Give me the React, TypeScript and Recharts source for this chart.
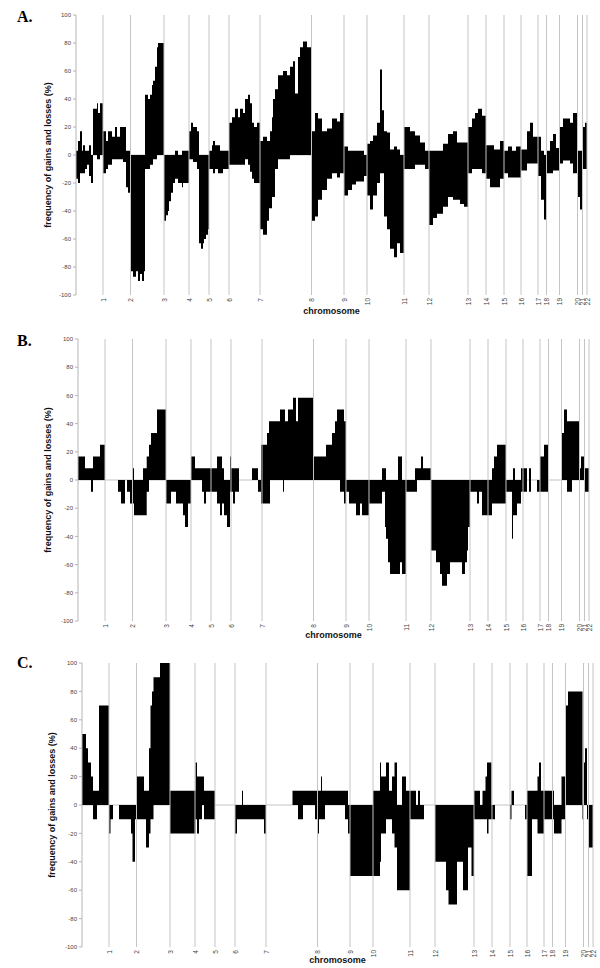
import React from 'react';
import { ComposedChart, Area, XAxis, YAxis, ReferenceLine, Label, CartesianGrid } from 'recharts';

// ---------- data ----------
const chromosomeLabels = ['1','2','3','4','5','6','7','8','9','10','11','12','13','14','15','16','17','18','19','20','21','22'];
// cumulative end position of every chromosome along the genome axis (clone index units)
const chromosomeEnds = [27, 54.5, 88, 113, 133, 153, 184, 235.5, 268, 291, 328, 353, 392, 410, 428, 445, 462, 470.5, 483.5, 501.5, 506.5, 511];
const yTicks = [-100, -80, -60, -40, -20, 0, 20, 40, 60, 80, 100];
const zeroLine = [0];

// [segment start, gain frequency %, loss frequency %]
const panelA: [number, number, number][] = [
  [0,3,-17],[2,10,-20],[4,17,-13],[6,3,-13],[7,7,-13],[9,3,-10],[11,3,-7],[13,7,-15],[15,0,-20],[17,33,0],[21,37,-3],[22,30,-3],[24,37,0],
  [27,17,-13],[30,10,-10],[32,17,-7],[36,13,-3],[39,20,-3],[41,13,-3],[44,20,-3],[47,20,-5],[50,3,-23],[52,3,-27],
  [54.5,0,-83],[57,0,-87],[60,0,-83],[62,0,-90],[64,0,-85],[66,0,-90],[68,0,-83],[69,43,-10],[72,40,-10],[74,43,-7],[76,50,-7],[77,53,-3],[79,63,-3],[81,77,0],[82,80,0],
  [88,0,-47],[90,0,-43],[92,0,-40],[93,0,-33],[95,0,-27],[97,0,-20],[99,3,-17],[102,0,-20],[106,3,-23],[107,3,-20],
  [113,17,-3],[115,23,-3],[117,20,-5],[121,17,-10],[123,0,-63],[125,0,-67],[127,0,-63],[128,0,-60],[130,0,-57],[132,0,-53],
  [133,3,-10],[136,7,-10],[137,10,-13],[139,7,-10],[142,7,-13],[144,3,-13],[147,3,-10],
  [153,23,-7],[156,27,-7],[159,33,-7],[162,27,-7],[164,33,-7],[167,30,-7],[169,40,-3],[172,43,-7],[174,37,-12],[176,23,-17],[178,20,-20],[181,23,-20],
  [184,10,-53],[187,13,-57],[191,10,-47],[193,10,-38],[194,17,-38],[196,27,-30],[197,40,-30],[199,47,-10],[202,57,-3],[207,60,-3],[211,57,-3],[214,63,0],[217,67,0],[219,44,0],[222,70,0],[224,77,0],[227,81,0],[231,77,0],
  [235.5,17,-47],[239,30,-44],[242,26,-32],[246,17,-25],[251,19,-17],[256,26,-13],[261,24,-16],[264,30,-13],
  [268,6,-29],[272,3,-25],[276,3,-21],[280,3,-19],[288,0,-15],
  [291,8,-29],[294,10,-39],[297,14,-29],[301,23,-20],[304,61,-13],[306,32,-13],[308,17,-44],[311,16,-53],[314,4,-67],[318,6,-73],[321,4,-63],[324,0,-70],
  [328,20,-10],[334,17,-10],[339,14,-7],[344,9,-7],[349,3,-10],
  [353,3,-50],[357,3,-45],[361,3,-42],[367,8,-37],[372,15,-30],[377,17,-32],[381,9,-32],[384,9,-35],[388,9,-37],
  [392,20,-13],[396,26,-10],[399,30,-10],[402,33,-10],[406,28,-13],
  [410,7,-17],[414,7,-23],[418,4,-23],[424,10,-17],
  [428,3,-13],[432,6,-16],[436,3,-16],[440,6,-16],
  [445,4,-11],[451,17,-6],[454,23,-6],[457,13,-6],
  [462,13,-15],[465,3,-32],[468,0,-46],
  [470.5,3,-13],[474,10,-13],[477,15,-11],[480,5,-11],
  [483.5,20,-6],[487,26,-4],[494,23,-6],[497,30,-13],
  [501.5,3,-30],[504,3,-39],
  [506.5,20,-10],[509,23,-10],
];

const panelB: [number, number, number][] = [
  [0,16.7,0],[7,8.3,0],[13,8.3,-8.3],[15,16.7,0],[22,25,0],
  [27,0,0],[40,0,-8.3],[43,0,-16.7],[47,0,0],[49,0,-8.3],[52,0,-16.7],
  [54.5,8.3,-16.7],[56,0,-25],[65,8.3,-25],[68.7,16.7,-8.3],[71,25,0],[73,33.3,0],[79,50,0],
  [88,0,-16.7],[93,0,-8.3],[98,0,-16.7],[105,0,-25],[107,0,-33.3],[110,0,-16.7],
  [113,16.7,0],[117,8.3,0],[124,8.3,-8.3],[126,8.3,-16.7],[128,8.3,-8.3],
  [133,8.3,-8.3],[139,16.7,-16.7],[142,16.7,-25],[144,8.3,-16.7],[146,0,-25],[149,0,-33.3],[152,16.7,-8.3],
  [153,8.3,-8.3],[155,8.3,-16.7],[157,8.3,-8.3],[161,0,0],[174,8.3,0],[180,0,-8.3],[183,25,-16.7],
  [184,25,-16.7],[189,33.3,-16.7],[191,41.7,-16.7],[192,41.7,0],[202,50,0],[205,50,-8.3],[206,50,0],[207,41.7,0],[210,50,0],[215,58.3,0],[218,41.7,0],[220,58.3,0],
  [235.5,16.7,0],[248,25,0],[254,33.3,0],[257,41.7,0],[259,50,0],[262,50,-8.3],[266,41.7,-16.7],
  [268,0,-8.3],[271,0,-16.7],[278,0,-25],[282,0,-16.7],[284,0,-25],
  [291,0,-16.7],[304,8.3,-8.3],[307,8.3,-33.3],[308,0,-41.7],[310,0,-58.3],[312,0,-66.7],[320,16.7,-66.7],[322,16.7,-58.3],[324,0,-66.7],
  [328,0,-8.3],[337,8.3,-8.3],[339,8.3,0],[343,16.7,0],[345,8.3,0],
  [353,0,-50],[358,0,-58.3],[362,0,-66.7],[364,0,-75],[369,0,-66.7],[372,0,-58.3],[384,0,-66.7],[387,0,-58.3],[389,0,-50],[390,0,-33.3],
  [392,0,-8.3],[399,0,-16.7],[401,0,-8.3],[404,0,-25],
  [410,0,-25],[414,8.3,-16.7],[416,16.7,-16.7],[419,25,-16.7],
  [428,0,-8.3],[434,0,-41.7],[435,8.3,-25],[437,0,-25],[439,0,-16.7],[443,8.3,-8.3],
  [445,8.3,-8.3],[449,0,0],[451,8.3,-8.3],[453,0,0],[459,0,-8.3],
  [462,16.7,-8.3],[466,25,-8.3],
  [470.5,0,0],
  [483.5,33.3,0],[486,50,0],[489,41.7,-8.3],[494,41.7,0],
  [501.5,8.3,0],[503,16.7,0],
  [506.5,8.3,-8.3],
];

const panelC: [number, number, number][] = [
  [0,50,0],[4,40,0],[6,30,0],[9,20,0],[11,10,-10],[15,10,0],[17,70,0],
  [27,0,-20],[28.5,0,-10],[31,0,0],[37,0,-10],[49,0,-20],[50.5,0,-40],[53,0,-10],
  [54,20,-10],[62,10,-10],[64,10,-30],[67,40,-20],[68.5,70,-10],[70,80,-10],[71.5,90,0],[78,100,0],
  [88,10,-20],
  [113.5,30,-10],[115,20,-20],[117,20,-10],[120,20,0],[122,10,-10],
  [133,0,0],
  [153,0,-20],[155,0,-10],[160,10,-10],[161,0,-10],[182,0,-20],
  [184,0,0],[210.5,10,0],[216,10,-10],[221,10,0],[233,10,-10],
  [235.5,10,-20],[237,10,-10],[239,20,-10],[240,10,-10],[243,10,0],[263,10,-10],[266,0,-20],
  [268,0,-50],
  [291,10,-50],[298,30,-40],[299,20,-20],[304,30,-10],[307,10,-10],[310,20,-20],[312.5,30,-30],[315,0,-60],[320,20,-60],[324,10,-60],
  [328,10,-10],[334,0,-10],[336,10,-10],[338,0,-10],[342,0,0],
  [353,0,-40],[364,0,-60],[366.5,0,-70],[375,0,-40],[381,0,-60],[386,0,-30],[389.5,0,-50],
  [392,10,-10],[398,0,-10],[400.5,10,-10],[403.5,20,-10],[405,30,-20],[406.5,30,-10],
  [409.5,0,-10],[413,0,0],
  [428,0,-10],[429.5,10,0],[432,0,0],[443,0,-10],
  [445,10,-50],[450,10,-10],[455.5,20,-20],[457,30,-20],[459,10,-20],
  [462,10,-10],
  [472,0,-20],[479.5,20,-10],
  [483.5,70,0],[486,80,0],[500.5,0,-10],
  [501,30,0],[503,40,0],[505,0,-10],
  [506,0,-30],
];

// ---------- helpers ----------
const FONT = "'Liberation Sans', Arial, Helvetica, sans-serif";
const SERIF = "'Liberation Serif', 'Times New Roman', serif";
const genomeEnd = chromosomeEnds[chromosomeEnds.length - 1];

function buildRows(segments: [number, number, number][]) {
  const rows = segments.map(([x, gain, loss]) => ({ x, gain, loss }));
  const last = segments[segments.length - 1];
  rows.push({ x: genomeEnd, gain: last[1], loss: last[2] });
  return rows;
}

const ChromTick = (props: any) => {
  const { x, y, payload } = props;
  const idx = chromosomeEnds.indexOf(payload.value);
  return (
    <text
      x={x}
      y={y}
      transform={`rotate(-90, ${x}, ${y})`}
      textAnchor="end"
      dominantBaseline="central"
      fontSize={6.5}
      fill="#444"
      fontFamily={FONT}
    >
      {idx >= 0 ? chromosomeLabels[idx] : ''}
    </text>
  );
};

type PanelProps = {
  segments: [number, number, number][];
  top: number;
  height: number;
  left: number;
  yWidth: number;
  right: number;
  xHeight: number;
  labelOffset: number;
};

function Panel({ segments, top, height, left, yWidth, right, xHeight, labelOffset }: PanelProps) {
  const rows = buildRows(segments);
  return (
    <div style={{ position: 'absolute', left: 0, top, width: 600, height }}>
      <ComposedChart
        width={600}
        height={height}
        data={rows}
        margin={{ top: 15, right, bottom: 0, left }}
      >
        <CartesianGrid vertical={false} horizontalValues={zeroLine} stroke="#c4c4c4" />
        <XAxis
          dataKey="x"
          type="number"
          domain={[0, genomeEnd]}
          ticks={chromosomeEnds}
          interval={0}
          tickLine={false}
          axisLine={false}
          tickSize={0}
          tickMargin={3}
          height={xHeight}
          tick={<ChromTick />}
          allowDataOverflow
        >
          <Label
            value="chromosome"
            position="insideBottom"
            offset={labelOffset}
            fontSize={9}
            fontWeight="bold"
            fill="#111"
            fontFamily={FONT}
          />
        </XAxis>
        <YAxis
          type="number"
          domain={[-100, 100]}
          ticks={yTicks}
          interval={0}
          width={yWidth}
          tickSize={3}
          tickMargin={2}
          axisLine={{ stroke: '#b5b5b5' }}
          tickLine={{ stroke: '#b5b5b5' }}
          tick={{ fontSize: 6, fill: '#444', fontFamily: FONT }}
          allowDataOverflow
        >
          <Label
            value="frequency of gains and losses (%)"
            angle={-90}
            position="center"
            fontSize={9}
            fontWeight="bold"
            fill="#111"
            fontFamily={FONT}
          />
        </YAxis>
        <Area
          type="stepAfter"
          dataKey="gain"
          baseValue={0}
          fill="#000"
          fillOpacity={1}
          stroke="none"
          dot={false}
          activeDot={false}
          isAnimationActive={false}
        />
        <Area
          type="stepAfter"
          dataKey="loss"
          baseValue={0}
          fill="#000"
          fillOpacity={1}
          stroke="none"
          dot={false}
          activeDot={false}
          isAnimationActive={false}
        />
        {chromosomeEnds.map((v) => (
          <ReferenceLine key={v} x={v} stroke="#c4c4c4" strokeWidth={1} />
        ))}
      </ComposedChart>
    </div>
  );
}

const letterStyle = (top: number): React.CSSProperties => ({
  position: 'absolute',
  left: 17,
  top,
  fontFamily: SERIF,
  fontWeight: 'bold',
  fontSize: 16,
  lineHeight: '16px',
  color: '#000',
});

export default function App() {
  return (
    <div style={{ position: 'absolute', left: 0, top: 0, width: 600, height: 968, background: '#fff', overflow: 'hidden' }}>
      <div style={letterStyle(9)}>A.</div>
      <div style={letterStyle(333)}>B.</div>
      <div style={letterStyle(655)}>C.</div>
      <Panel segments={panelA} top={0} height={320} left={20} yWidth={56} right={13} xHeight={25} labelOffset={6.5} />
      <Panel segments={panelB} top={324} height={320} left={18} yWidth={60} right={11} xHeight={23} labelOffset={6} />
      <Panel segments={panelC} top={648} height={320} left={22} yWidth={60} right={7} xHeight={21} labelOffset={5} />
    </div>
  );
}
